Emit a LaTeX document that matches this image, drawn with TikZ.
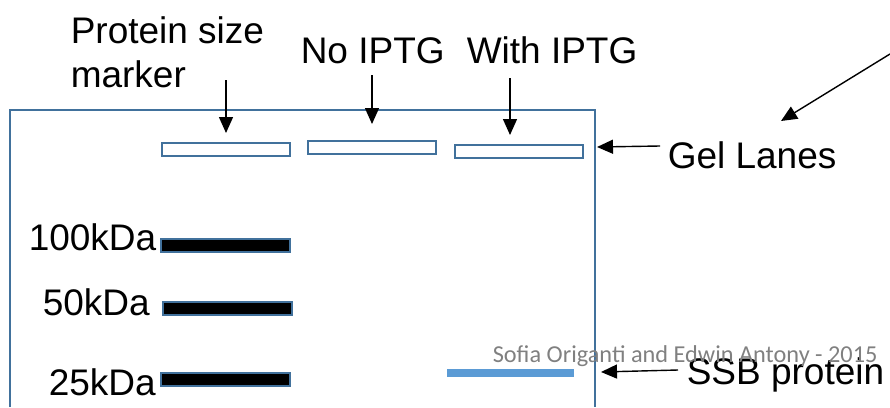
\documentclass[tikz,border=0pt]{standalone}
\usepackage{fontspec}
\setmainfont{Liberation Sans}
\newfontfamily\creditfont{Carlito}
\usetikzlibrary{arrows.meta}
\definecolor{gelblue}{RGB}{65,113,156}
\definecolor{ssbblue}{RGB}{91,155,213}
\definecolor{creditgray}{RGB}{128,128,128}
\newcommand{\lblfont}{\fontsize{37}{40}\selectfont}

\begin{document}
\begin{tikzpicture}[x=1pt, y=-1pt, line width=1.5pt,
  lbl/.style={anchor=base west, inner sep=0pt, font=\lblfont},
  arr/.style={-{Triangle[length=16pt,width=14pt]}, line width=1.4pt}]
  \useasboundingbox (0,0) rectangle (890,407);
  % gel, open at the bottom
  \draw[gelblue, line width=2.8pt] (10,407) -- (10,110) -- (595,110) -- (595,407);
  \foreach \x/\y in {162/143, 308/141, 455/145} { \draw[gelblue, line width=2.2pt] (\x,\y) rectangle ++(128,13); }
  \foreach \x/\y in {161/239, 163/302, 161/373} { \draw[gelblue, fill=black, line width=2.2pt] (\x,\y) rectangle ++(129,13); }
  \fill[ssbblue] (447,369) rectangle (574,377);
  % labels
  \node[lbl] (psize) at (70,43) {Protein size};
  \node[lbl] (pmarker) at (70,87) {marker};
  \node[lbl] (noiptg) at (300,63) {No IPTG};
  \node[lbl] (withiptg) at (466,63) {With IPTG};
  \node[lbl] (lanes) at (667,168) {Gel Lanes};
  \node[lbl] (k100) at (28,250) {100kDa};
  \node[lbl] (k50) at (42,315) {50kDa};
  \node[lbl] (k25) at (48,395) {25kDa};
  \node[lbl] (ssb) at (686,384) {SSB protein};
  \node[anchor=base west, inner sep=0pt, text=creditgray, font=\creditfont\fontsize{24.3}{26}\selectfont] (credit) at (492,362) {Sofia Origanti and Edwin Antony - 2015};
  % arrows
  \coordinate (mtail) at (226,80);  \coordinate (mtip) at (226,133);
  \coordinate (ntail) at (372,75);  \coordinate (ntip) at (372,124);
  \coordinate (wtail) at (510,78);  \coordinate (wtip) at (510,135);
  \coordinate (ltail) at (660,146); \coordinate (ltip) at (597,147);
  \coordinate (dtail) at (890,54);  \coordinate (dtip) at (781,121);
  \coordinate (stail) at (678,370); \coordinate (stip) at (601,372);
  \foreach \a in {m, n, w, l, d, s} { \draw[arr] (\a tail) -- (\a tip); }
\end{tikzpicture}
\end{document}
